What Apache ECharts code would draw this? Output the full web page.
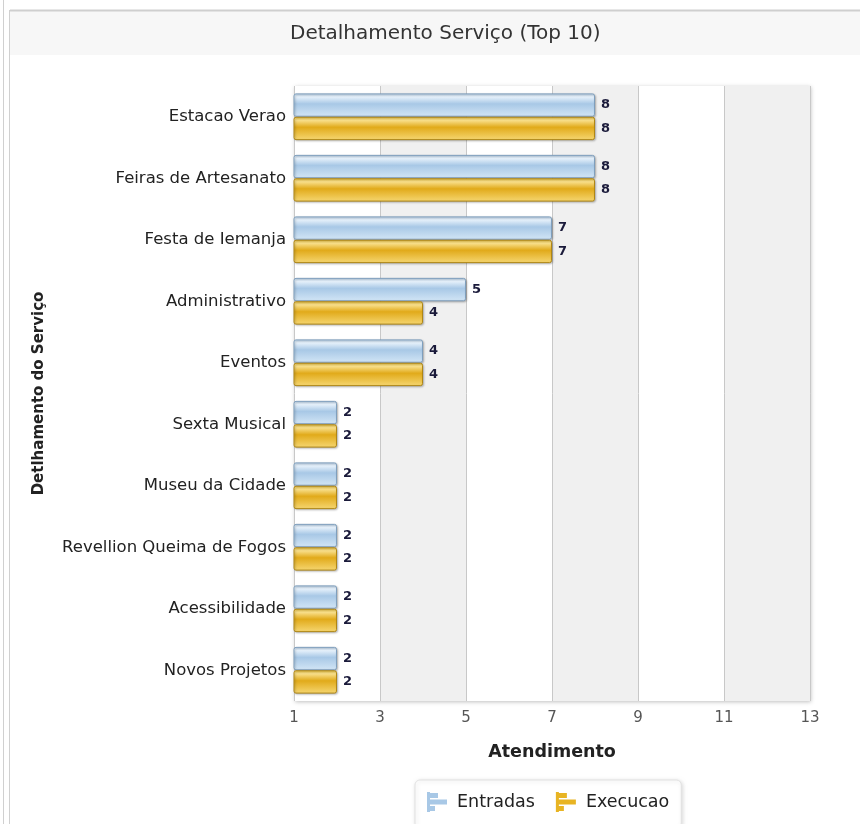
<!DOCTYPE html>
<html><head><meta charset="utf-8">
<script src="https://cdn.jsdelivr.net/npm/echarts@6/dist/echarts.min.js"></script>
<style>html,body{margin:0;padding:0;background:#fff}#c{width:860px;height:824px}</style>
</head><body><div id="c"></div>
<script>
var categories = ['Estacao Verao','Feiras de Artesanato','Festa de Iemanja','Administrativo','Eventos','Sexta Musical','Museu da Cidade','Revellion Queima de Fogos','Acessibilidade','Novos Projetos'];
var entradas = [8,8,7,5,4,2,2,2,2,2];
var execucao = [8,8,7,4,4,2,2,2,2,2];
var xTicks = {min:1, max:13, interval:2};

var FONT = 'DejaVu Sans, Verdana, sans-serif';
var chart = echarts.init(document.getElementById('c'));
var blue = new echarts.graphic.LinearGradient(0,0,0,1,[{offset:0,color:'#c3daef'},{offset:0.15,color:'#e6f1fb'},{offset:0.45,color:'#a8c8e6'},{offset:1,color:'#d3e6f6'}]);
var gold = new echarts.graphic.LinearGradient(0,0,0,1,[{offset:0,color:'#f0c948'},{offset:0.15,color:'#f9e08c'},{offset:0.45,color:'#e1aa1a'},{offset:1,color:'#f6d772'}]);
var lbl = {show:true, position:'right', distance:6, color:'#1a1a3a', fontWeight:'bold', fontSize:13, fontFamily:FONT};
var ICON = 'path://M0,0H3V20H0Z M0,1H11V6H0Z M0,7.5H20V12.5H0Z M0,14H8V19H0Z';
chart.setOption({
  animation:false,
  graphic:[
    {type:'rect', shape:{x:10,y:10,width:850,height:45}, style:{fill:'#f7f7f7'}, z:-10},
    {type:'line', shape:{x1:10,y1:10.5,x2:860,y2:10.5}, style:{stroke:'#cfcfcf',lineWidth:2}, z:-9},
    {type:'line', shape:{x1:3.5,y1:0,x2:3.5,y2:824}, style:{stroke:'#d0d0d0',lineWidth:1}},
    {type:'line', shape:{x1:9.5,y1:10,x2:9.5,y2:824}, style:{stroke:'#d0d0d0',lineWidth:1}}
  ],
  title:{text:'Detalhamento Serviço (Top 10)', left:290, top:24, padding:0,
    textStyle:{fontFamily:FONT, fontWeight:'normal', fontSize:20, color:'#333'}},
  legend:{top:780, left:415, itemGap:21, itemWidth:20, itemHeight:20,
    padding:[12,12,16,12], backgroundColor:'#fff', borderColor:'#e2e2e2', borderWidth:1, borderRadius:5,
    shadowColor:'rgba(0,0,0,0.15)', shadowBlur:4, shadowOffsetX:1, shadowOffsetY:1,
    textStyle:{fontSize:17.5, color:'#222', fontFamily:FONT, padding:[0,0,0,5]},
    data:[
      {name:'Entradas', icon:ICON, itemStyle:{color:'#a8c8e6',borderWidth:0}},
      {name:'Execucao', icon:ICON, itemStyle:{color:'#e8b423',borderWidth:0}}
    ]},
  grid:{left:294, right:50, top:86, bottom:123, show:true, borderWidth:0, backgroundColor:'#f0f0f0',
    shadowColor:'rgba(0,0,0,0.25)', shadowBlur:4, shadowOffsetX:1, shadowOffsetY:1},
  xAxis:{type:'value', min:xTicks.min, max:xTicks.max, interval:xTicks.interval,
    name:'Atendimento', nameLocation:'middle', nameGap:42,
    nameTextStyle:{fontWeight:'bold', fontSize:17.5, color:'#222', fontFamily:FONT},
    axisLine:{show:false}, axisTick:{show:false},
    axisLabel:{color:'#555', fontSize:15, margin:10, fontFamily:FONT},
    splitLine:{show:true, lineStyle:{color:'#c8c8c8', width:1}},
    splitArea:{show:true, areaStyle:{color:['#ffffff','#f0f0f0']}}},
  yAxis:{type:'category', data:categories, inverse:true,
    name:'Detlhamento do Serviço', nameLocation:'middle', nameGap:247, nameRotate:90,
    nameTextStyle:{fontWeight:'bold', fontSize:15, color:'#222', fontFamily:FONT},
    axisLine:{show:false}, axisTick:{show:false},
    axisLabel:{color:'#222', fontSize:16.5, margin:8, fontFamily:FONT, padding:[3,0,0,0]},
    splitLine:{show:false}},
  series:[
    {name:'Entradas', type:'bar', data:entradas, barGap:'0%', barCategoryGap:'24%',
      itemStyle:{color:blue, borderColor:'#7f9fbd', borderWidth:1, borderRadius:2,
        shadowColor:'rgba(0,0,0,0.25)', shadowBlur:2, shadowOffsetX:1, shadowOffsetY:1}, label:lbl},
    {name:'Execucao', type:'bar', data:execucao, barGap:'0%', barCategoryGap:'24%',
      itemStyle:{color:gold, borderColor:'#b08714', borderWidth:1, borderRadius:2,
        shadowColor:'rgba(0,0,0,0.25)', shadowBlur:2, shadowOffsetX:1, shadowOffsetY:1}, label:lbl}
  ]
});
</script></body></html>
